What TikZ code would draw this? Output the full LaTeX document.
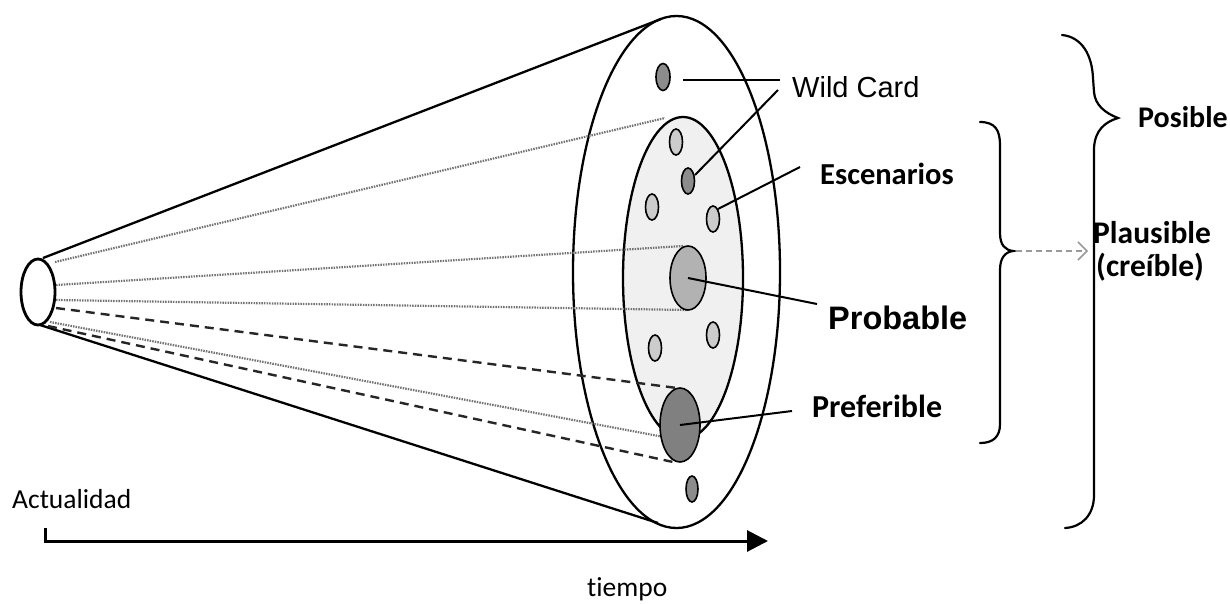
\documentclass[tikz,border=0pt]{standalone}
\usepackage{fontspec}
\newfontfamily\calfont[Ligatures=NoCommon]{Carlito}
\newfontfamily\arialfont{Liberation Sans}
\usetikzlibrary{shapes.geometric,arrows.meta}
\begin{document}
\begin{tikzpicture}[x=1pt,y=-1pt,
  ring/.style={draw, ellipse, inner sep=0pt, line width=2.3pt},
  dot/.style={draw, ellipse, inner sep=0pt, line width=1.6pt, minimum width=13pt, minimum height=26pt},
  lightdot/.style={dot, fill=black!20},
  middot/.style={dot, fill=black!45},
  cone/.style={line width=2.3pt},
  dotline/.style={line width=2.2pt, black!55, dash pattern=on 1.5pt off 1.1pt},
  dashline/.style={line width=2.4pt, black!85, dash pattern=on 9pt off 6pt},
  leader/.style={line width=2pt},
  lab/.style={anchor=base west, inner sep=0pt},
  brace/.style={line width=2.2pt, line cap=round}
]
\useasboundingbox (0,0) rectangle (1230,603);

% big rings
\node[ring, minimum width=207pt, minimum height=512pt] (outer) at (676.5,272) {};
\node[ring, fill=black!6, minimum width=120pt, minimum height=322pt] (inner) at (683,278) {};

% coordinates for cone
\coordinate (sT) at (43,258);
\coordinate (sB) at (40,325);
\coordinate (oT) at (661,19);
\coordinate (oB) at (658,523);
\draw[cone] (sT) -- (oT);
\draw[cone] (sB) -- (oB);

% scenario dots
\node[middot, minimum width=14pt, minimum height=27pt] (wc) at (663,77) {};
\node[lightdot] (d1) at (676,142) {};
\node[middot] (d2) at (688,181) {};
\node[lightdot] (d3) at (652,207) {};
\node[lightdot] (d4) at (713,219) {};
\node[lightdot] (d5) at (713,335) {};
\node[lightdot] (d6) at (655,348) {};
\node[middot, minimum width=12pt] (d7) at (692,489) {};

% projection lines
\coordinate (p1a) at (55,262);   \coordinate (p1b) at (665,118);
\coordinate (p2a) at (56,285);   \coordinate (p2b) at (683,246);
\coordinate (p3a) at (56,300);   \coordinate (p3b) at (688,310);
\coordinate (p4a) at (56,308);   \coordinate (p4b) at (677,388);
\coordinate (p5a) at (50,322);   \coordinate (p5b) at (664,437);
\coordinate (p6a) at (48,326);   \coordinate (p6b) at (673,462);
\draw[dotline] (p1a) -- (p1b);
\draw[dotline] (p2a) -- (p2b);
\draw[dotline] (p3a) -- (p3b);
\draw[dotline] (p5a) -- (p5b);

\node[dot, fill=black!30, minimum width=36pt, minimum height=64pt] (prob) at (688,278) {};
\node[dot, fill=black!50, minimum width=40pt, minimum height=74pt] (pref) at (680,425) {};

\draw[dashline] (p4a) -- (p4b);
\draw[dashline] (p6a) -- (p6b);

% present (small ellipse)
\node[ring, line width=2.8pt, fill=white, minimum width=34pt, minimum height=66pt] (now) at (38,292) {};

% labels
\node[lab, font=\arialfont\fontsize{29}{31}\selectfont] (lwc) at (792,97) {Wild Card};
\node[lab, font=\calfont\bfseries\fontsize{30.5}{32}\selectfont] (lesc) at (820,184) {Escenarios};
\node[lab, font=\arialfont\bfseries\fontsize{32.5}{34}\selectfont] (lprob) at (828,329) {Probable};
\node[lab, font=\calfont\bfseries\fontsize{32}{33}\selectfont] (lpref) at (812,417) {Preferible};
\node[lab, font=\calfont\bfseries\fontsize{30}{32}\selectfont] (lpos) at (1138,127) {Posible};
\node[lab, font=\calfont\bfseries\fontsize{31.5}{33}\selectfont] (lpla) at (1093,243) {Plausible};
\node[lab, font=\calfont\bfseries\fontsize{31.5}{33}\selectfont] (lcre) at (1096,276) {(creíble)};
\node[lab, font=\calfont\fontsize{27.5}{29}\selectfont] (lact) at (12,508) {Actualidad};
\node[lab, font=\calfont\fontsize{27.5}{29}\selectfont] (ltie) at (587,596) {tiempo};

% leaders
\coordinate (wcS) at (683,80);
\coordinate (wcA) at (780,80);
\coordinate (wcB) at (778,90);
\coordinate (escA) at (800,167);
\coordinate (probA) at (817,304);
\coordinate (prefA) at (792,411);
\draw[leader] (wcS) -- (wcA);
\draw[leader] (d2.center) ++(7,-6) coordinate (d2s) (d2s) -- (wcB);
\draw[leader] (d4.center) ++(5,-10) coordinate (d4s) (d4s) -- (escA);
\draw[leader] (prob.center) -- (probA);
\draw[leader] (pref.center) -- (prefA);

% time axis
\coordinate (ax0) at (45,528);
\coordinate (ax1) at (45,541);
\coordinate (ax2) at (768,541);
\draw[line width=3pt, -{Triangle[length=21pt,width=21pt]}] (ax0) -- (ax1) -- (ax2);

% small brace (plausible)
\coordinate (bp) at (1013,251);
\draw[brace] (980,122) .. controls (995,122) and (1000,130) .. (1000,145)
  -- (1000,233) .. controls (1000,245) and (1005,250) .. (bp)
  .. controls (1005,252) and (1000,258) .. (1000,270)
  -- (1000,424) .. controls (1000,437) and (993,443) .. (980,443);
% large brace (posible)
\coordinate (Bp) at (1118,118);
\draw[brace] (1062,35) .. controls (1082,37) and (1092,55) .. (1093,78)
  -- (1094,92) .. controls (1095,105) and (1105,113) .. (Bp)
  .. controls (1105,122) and (1095,130) .. (1094,148)
  -- (1094,495) .. controls (1094,515) and (1082,527) .. (1065,528);

% dashed arrow
\coordinate (plaA) at (1088,251);
\draw[line width=1.5pt, black!40, dash pattern=on 6pt off 4pt, -{Straight Barb[length=9pt,width=18pt]}] (bp) ++(3,0) coordinate (bps) (bps) -- (plaA);
\end{tikzpicture}
\end{document}
